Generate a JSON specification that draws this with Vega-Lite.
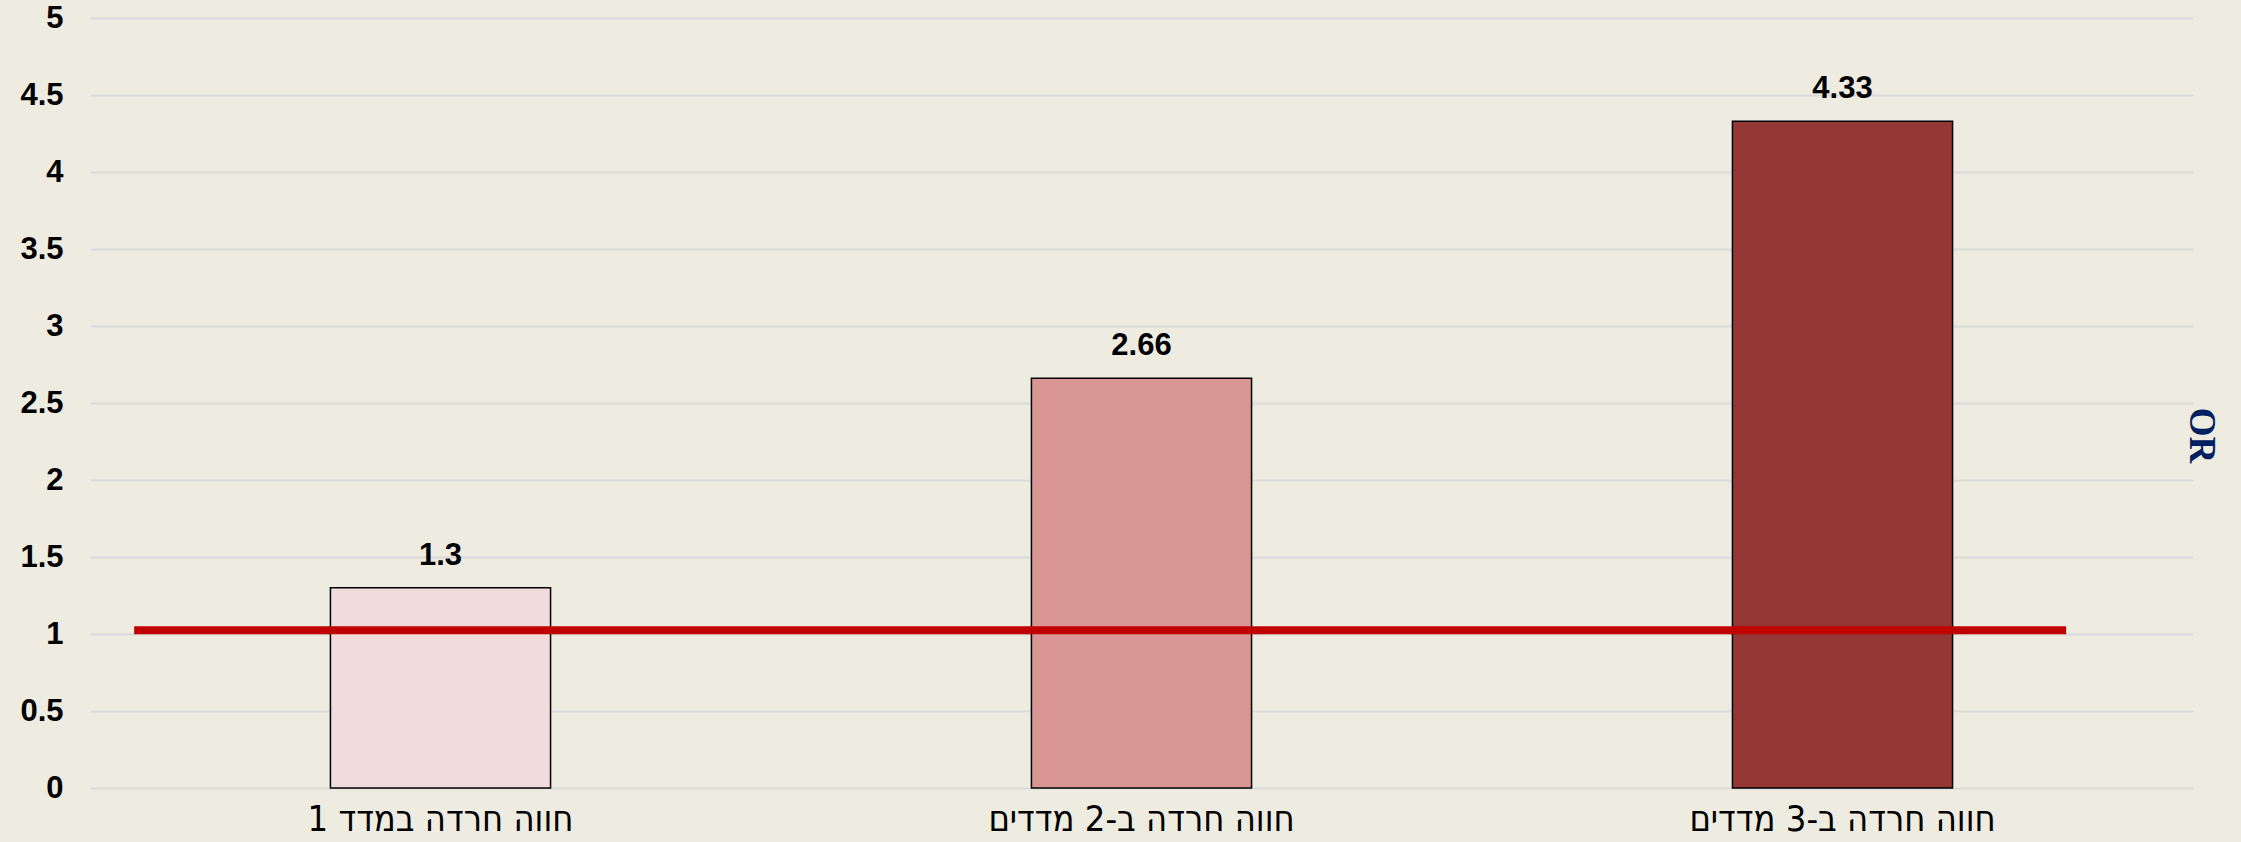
{
  "$schema": "https://vega.github.io/schema/vega-lite/v6.json",
  "autosize": {"type": "none"},
  "padding": {"left": 90, "top": 18, "right": 48, "bottom": 54},
  "width": 2103,
  "height": 770,
  "background": "#EEECE1",
  "config": {"view": {"stroke": null}},
  "datasets": {
    "bars": [
      {"cat": "חווה חרדה במדד 1", "or": 1.3},
      {"cat": "חווה חרדה ב-2 מדדים", "or": 2.66},
      {"cat": "חווה חרדה ב-3 מדדים", "or": 4.33}
    ],
    "line": [
      {"start": 0.063, "end": 2.819, "or": 1.025}
    ]
  },
  "layer": [
    {
      "data": {"name": "bars"},
      "encoding": {
        "x": {
          "field": "cat", "type": "nominal", "sort": null,
          "scale": {"paddingInner": 0.686, "paddingOuter": 0.343},
          "axis": {"title": null, "labelFont": "DejaVu Sans Condensed", "labelFontSize": 36, "labelColor": "#000000", "labelPadding": 14, "ticks": false, "domain": false, "grid": false, "labelAngle": 0, "labelLimit": 0}
        },
        "y": {
          "field": "or", "type": "quantitative",
          "scale": {"domain": [0, 5], "nice": false},
          "axis": {"title": null, "values": [0, 0.5, 1, 1.5, 2, 2.5, 3, 3.5, 4, 4.5, 5], "format": "~g", "labelFont": "Liberation Sans", "labelFontWeight": "bold", "labelFontSize": 31, "labelColor": "#000000", "labelPadding": 27, "ticks": false, "domain": false, "grid": true, "gridColor": "#D9D9D9", "gridWidth": 2}
        }
      },
      "layer": [
        {
          "mark": {"type": "bar", "stroke": "#000000", "strokeWidth": 1.5},
          "encoding": {
            "color": {
              "field": "cat", "type": "nominal", "sort": null,
              "scale": {"domain": ["חווה חרדה במדד 1", "חווה חרדה ב-2 מדדים", "חווה חרדה ב-3 מדדים"], "range": ["#F2DCDB", "#DA9694", "#953735"]},
              "legend": null
            }
          }
        },
        {
          "mark": {"type": "text", "font": "Liberation Sans", "fontWeight": "bold", "fontSize": 31, "color": "#000000", "baseline": "alphabetic", "dy": -23},
          "encoding": {
            "text": {"field": "or", "type": "quantitative", "format": "~g"}
          }
        }
      ]
    },
    {
      "data": {"name": "line"},
      "mark": {"type": "rule", "color": "#C00000", "strokeWidth": 8},
      "encoding": {
        "x": {"field": "start", "type": "quantitative", "scale": {"domain": [0, 3], "nice": false, "zero": false}, "axis": null},
        "x2": {"field": "end"},
        "y": {
          "field": "or", "type": "quantitative",
          "scale": {"domain": [0, 5], "nice": false},
          "axis": {"orient": "right", "labels": false, "ticks": false, "domain": false, "grid": false, "title": "OR", "titleFont": "Liberation Serif", "titleFontSize": 37, "titleFontWeight": "bold", "titleColor": "#002060", "titleAngle": 90, "titleX": 7, "titleY": 417, "titleAlign": "center", "titleBaseline": "middle"}
        }
      }
    }
  ],
  "resolve": {"scale": {"x": "independent"}, "axis": {"y": "independent"}}
}
